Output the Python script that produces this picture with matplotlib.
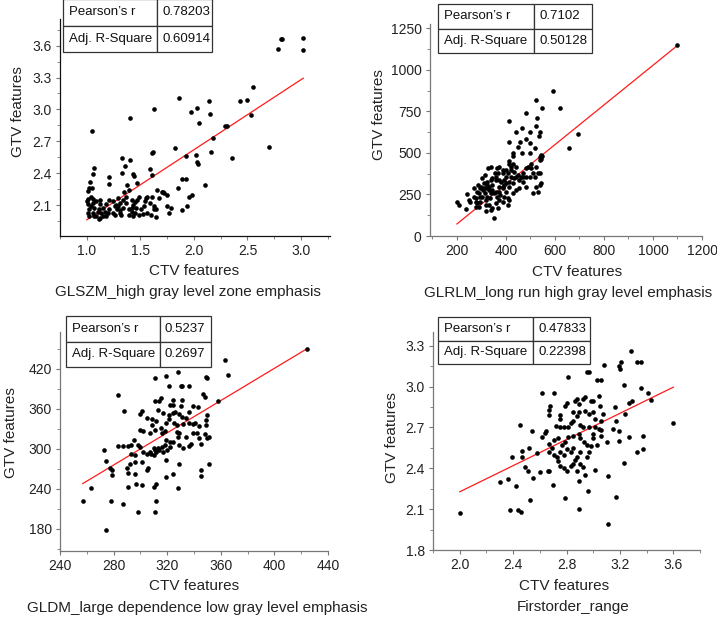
import numpy as np
import matplotlib
matplotlib.use("Agg")
import matplotlib.pyplot as plt
from matplotlib.ticker import MultipleLocator

plt.rcParams['font.family'] = ['Liberation Sans', 'DejaVu Sans']

# ---------------- data ----------------
p1_title = "GLSZM_high gray level zone emphasis"
p1_stats = ["0.78203", "0.60914"]
p1_ctv = [2.81, 2.82, 2.78, 3.02, 3.02, 2.55, 2.50, 2.43, 2.14, 1.86, 1.63, 1.40, 1.05, 1.97, 2.03,
          2.15, 2.05, 2.53, 2.29, 2.31, 2.18, 2.70, 2.36, 2.16, 1.82, 1.62, 1.61, 1.93, 2.02, 2.03,
          2.04, 1.93, 1.89, 2.10, 1.61, 1.59, 1.33, 1.40, 1.36, 1.43, 1.44, 1.33, 1.38, 1.39, 1.47,
          1.21, 1.21, 1.07, 1.06, 1.03, 1.02, 1.01, 1.05, 1.85, 1.98, 1.95, 1.94, 1.89, 1.75, 1.70,
          1.72, 1.66, 1.61, 1.75, 1.79, 1.77, 1.63, 1.63, 1.65, 1.47, 1.49, 1.55, 1.56, 1.53, 1.51,
          1.56, 1.60, 1.42, 1.43, 1.37, 1.34, 1.35, 1.31, 1.29, 1.26, 1.24, 1.18, 1.21, 1.24, 1.26,
          1.27, 1.15, 1.12, 1.09, 1.06, 1.04, 1.07, 1.10, 1.11, 1.13, 1.06, 1.07, 1.01, 1.02, 1.11,
          1.15, 1.18, 1.00, 1.01, 1.04, 1.39, 1.42, 1.45, 1.46, 1.49, 1.52, 1.29, 1.31, 1.32, 1.34,
          1.01, 1.02, 1.06, 1.12, 1.17, 1.20, 1.12, 1.45, 1.59, 1.67, 1.71, 1.54, 1.37, 1.42, 1.28,
          1.21, 1.65, 1.31, 1.39, 1.43, 1.09]
p1_gtv = [3.66, 3.66, 3.57, 3.67, 3.56, 3.21, 3.09, 3.08, 3.08, 3.11, 3.00, 2.92, 2.80, 2.98, 3.01,
          2.96, 2.87, 2.95, 2.84, 2.84, 2.73, 2.65, 2.54, 2.60, 2.64, 2.60, 2.59, 2.56, 2.57, 2.51,
          2.49, 2.35, 2.35, 2.29, 2.38, 2.44, 2.54, 2.52, 2.47, 2.39, 2.37, 2.40, 2.29, 2.24, 2.31,
          2.36, 2.30, 2.45, 2.39, 2.32, 2.26, 2.23, 2.26, 2.26, 2.20, 2.18, 2.09, 2.05, 2.20, 2.22,
          2.21, 2.24, 2.18, 2.09, 2.07, 2.03, 2.09, 2.06, 1.99, 2.15, 2.18, 2.17, 2.18, 2.09, 2.06,
          2.03, 2.01, 2.15, 2.10, 2.18, 2.15, 2.22, 2.12, 2.09, 2.09, 2.14, 2.11, 2.06, 2.03, 2.01,
          2.10, 2.07, 2.15, 2.14, 2.16, 2.09, 2.07, 2.04, 2.06, 2.03, 2.03, 2.00, 2.03, 2.00, 1.97,
          2.00, 2.00, 2.14, 2.16, 2.18, 2.06, 2.04, 2.03, 2.07, 2.01, 2.02, 2.17, 2.05, 2.01, 2.07,
          2.11, 2.06, 2.12, 2.11, 2.04, 2.03, 1.98, 2.13, 2.12, 2.17, 2.22, 2.14, 2.12, 2.07, 2.06,
          2.15, 2.06, 2.03, 2.01, 2.00, 2.00]
p1_fit = (0.659, 1.303)
p1_xticks = [1.0, 1.5, 2.0, 2.5, 3.0]
p1_yticks = [2.1, 2.4, 2.7, 3.0, 3.3, 3.6]

p2_title = "GLRLM_long run high gray level emphasis"
p2_stats = ["0.7102", "0.50128"]
p2_ctv = [1100, 593, 524, 621, 549, 480, 527, 414, 694, 538, 524, 465, 497, 534, 483, 439, 414, 459,
          499, 517, 659, 465, 498, 448, 430, 428, 545, 538, 411, 428, 441, 421, 400, 386, 372, 363,
          414, 490, 503, 524, 538, 510, 483, 462, 441, 455, 524, 538, 531, 510, 545, 428, 414, 400,
          393, 379, 359, 345, 338, 324, 310, 300, 317, 331, 345, 338, 359, 372, 386, 400, 407, 414,
          407, 386, 372, 359, 345, 331, 317, 303, 296, 283, 276, 276, 269, 290, 307, 324, 334, 362,
          376, 393, 428, 441, 455, 303, 314, 328, 338, 366, 386, 407, 421, 432, 469, 483, 352, 317,
          290, 248, 237, 207, 241, 276, 200, 255, 317, 338, 366, 386, 400, 359, 345, 324, 314, 296,
          283, 355, 372, 414, 434, 448, 469, 497, 517, 531, 545, 549, 538, 503, 483, 469, 421, 393,
          372, 352, 331, 310, 296, 286, 269]
p2_gtv = [1146, 872, 816, 772, 772, 742, 712, 692, 616, 626, 660, 652, 626, 600, 584, 628, 566, 566,
          560, 532, 532, 500, 500, 536, 500, 484, 486, 476, 452, 436, 416, 416, 396, 376, 416, 406,
          436, 416, 406, 416, 376, 376, 356, 356, 356, 336, 296, 306, 266, 256, 316, 316, 296, 320,
          336, 326, 356, 346, 336, 326, 316, 296, 286, 296, 276, 256, 266, 296, 296, 266, 226, 216,
          186, 206, 216, 196, 166, 186, 216, 236, 206, 196, 176, 226, 236, 256, 276, 236, 226, 236,
          246, 236, 256, 276, 286, 346, 366, 406, 416, 376, 396, 376, 356, 346, 326, 296, 106, 150,
          176, 216, 160, 186, 250, 206, 206, 206, 186, 156, 166, 286, 356, 336, 306, 306, 256, 236,
          266, 376, 336, 326, 386, 366, 356, 356, 356, 376, 466, 480, 456, 436, 406, 376, 396, 306,
          266, 256, 276, 286, 286, 306, 286]
p2_fit = (1.193, -166.2)
p2_xticks = [200, 400, 600, 800, 1000, 1200]
p2_yticks = [0, 250, 500, 750, 1000, 1250]

p3_title = "GLDM_large dependence low gray level emphasis"
p3_stats = ["0.5237", "0.2697"]
p3_ctv = [424, 363, 365, 350, 349, 328, 319, 311, 283, 321, 330, 331, 336, 358, 347, 348, 315, 311,
          314, 322, 324, 330, 339, 343, 350, 349, 349, 288, 301, 300, 305, 309, 313, 317, 321, 324,
          326, 329, 331, 334, 336, 321, 319, 325, 327, 332, 336, 339, 312, 309, 315, 316, 307, 302,
          300, 311, 318, 327, 329, 339, 342, 334, 338, 336, 344, 345, 351, 350, 348, 319, 322, 318,
          316, 313, 311, 310, 307, 308, 310, 312, 314, 317, 320, 322, 324, 328, 332, 329, 305, 302,
          300, 298, 295, 293, 291, 287, 283, 293, 296, 296, 301, 305, 306, 290, 292, 279, 274, 279,
          277, 263, 273, 291, 296, 291, 301, 310, 312, 297, 278, 287, 298, 311, 312, 257, 274, 319,
          319, 324, 329, 328, 345, 345, 351, 344, 341, 331, 324]
p3_gtv = [449, 433, 411, 406, 407, 415, 409, 406, 380, 394, 394, 394, 394, 372, 382, 378, 376, 371,
          371, 365, 373, 364, 364, 362, 351, 343, 336, 357, 357, 352, 346, 344, 358, 353, 351, 353,
          355, 352, 348, 346, 355, 344, 338, 338, 336, 337, 338, 337, 341, 336, 331, 323, 323, 326,
          328, 328, 326, 325, 324, 323, 323, 318, 307, 304, 316, 307, 318, 316, 322, 313, 311, 306,
          303, 302, 299, 301, 296, 293, 291, 296, 299, 296, 298, 303, 311, 318, 301, 306, 293, 295,
          303, 306, 313, 306, 305, 305, 305, 293, 291, 281, 281, 268, 272, 272, 278, 269, 282, 261,
          272, 241, 299, 264, 262, 243, 246, 243, 248, 247, 222, 218, 205, 206, 222, 222, 178, 283,
          258, 262, 277, 241, 268, 259, 277, 334, 338, 373, 366]
p3_fit = (1.207, -62.2)
p3_xticks = [240, 280, 320, 360, 400, 440]
p3_yticks = [180, 240, 300, 360, 420]

p4_title = "Firstorder_range"
p4_stats = ["0.47833", "0.22398"]
p4_ctv = [2.00, 3.60, 3.11, 3.28, 3.33, 3.36, 3.19, 3.20, 3.21, 3.08, 2.95, 2.97, 2.81, 3.03, 3.06,
          3.23, 3.36, 3.41, 3.43, 3.29, 3.27, 3.24, 3.16, 3.07, 3.06, 3.05, 3.04, 3.00, 2.98, 2.94,
          2.92, 2.88, 2.86, 2.89, 2.80, 2.79, 2.71, 2.62, 2.68, 2.67, 2.67, 2.75, 2.75, 2.85, 2.89,
          2.94, 2.97, 3.00, 3.01, 2.88, 2.85, 2.83, 2.81, 2.78, 2.75, 2.72, 2.90, 2.92, 2.97, 3.01,
          3.04, 3.06, 3.15, 3.17, 3.19, 3.19, 3.27, 3.37, 3.37, 3.33, 3.23, 3.11, 3.17, 2.96, 2.89,
          2.79, 2.66, 2.67, 2.55, 2.70, 2.53, 2.44, 2.46, 2.38, 2.42, 2.36, 2.30, 2.39, 2.49, 2.51,
          2.47, 2.47, 2.52, 2.54, 2.45, 2.58, 2.62, 2.64, 2.65, 2.67, 2.69, 2.67, 2.71, 2.73, 2.74,
          2.75, 2.78, 2.80, 2.85, 2.83, 2.86, 2.88, 2.90, 2.92, 2.94, 2.89, 2.88, 2.95, 2.97, 2.98,
          2.95, 2.93, 2.90, 2.89, 2.85, 2.81, 2.79, 2.77, 2.80, 2.83, 3.00, 3.00, 3.03, 3.01, 2.60,
          2.75, 2.74, 3.10, 3.06, 2.71, 2.78, 2.85, 2.90]
p4_gtv = [2.07, 2.73, 1.99, 3.26, 3.18, 3.18, 3.15, 3.13, 3.18, 3.16, 3.11, 3.11, 3.07, 3.05, 3.05,
          3.01, 2.99, 2.95, 2.90, 2.89, 2.88, 2.80, 2.85, 2.80, 2.75, 2.86, 2.93, 2.89, 2.89, 2.92,
          2.91, 2.91, 2.89, 2.87, 2.88, 2.86, 2.95, 2.95, 2.86, 2.83, 2.79, 2.79, 2.76, 2.81, 2.81,
          2.82, 2.80, 2.81, 2.76, 2.78, 2.75, 2.73, 2.70, 2.70, 2.70, 2.71, 2.72, 2.70, 2.70, 2.70,
          2.69, 2.68, 2.69, 2.75, 2.67, 2.60, 2.63, 2.64, 2.54, 2.52, 2.44, 2.34, 2.19, 2.23, 2.10,
          2.18, 2.38, 2.38, 2.33, 2.28, 2.17, 2.09, 2.08, 2.09, 2.27, 2.32, 2.30, 2.48, 2.41, 2.38,
          2.53, 2.48, 2.55, 2.67, 2.72, 2.51, 2.63, 2.66, 2.67, 2.58, 2.55, 2.52, 2.50, 2.48, 2.45,
          2.42, 2.40, 2.38, 2.43, 2.42, 2.46, 2.48, 2.43, 2.41, 2.35, 2.31, 2.38, 2.48, 2.52, 2.56,
          2.57, 2.59, 2.62, 2.65, 2.64, 2.63, 2.59, 2.57, 2.54, 2.52, 2.65, 2.62, 2.57, 2.39, 2.37,
          2.52, 2.62, 2.59, 2.64, 2.61, 2.50, 2.55, 2.52]
p4_fit = (0.48, 1.267)
p4_xticks = [2.0, 2.4, 2.8, 3.2, 3.6]
p4_yticks = [1.8, 2.1, 2.4, 2.7, 3.0, 3.3]

stat_names = ["Pearson\u2019s r", "Adj. R-Square"]

# ---------------- layout ----------------
W, H = 717, 617
fig = plt.figure(figsize=(W / 100, H / 100), dpi=100)

def px_axes(x0, y0, x1, y1):
    return [x0 / W, (H - y1) / H, (x1 - x0) / W, (y1 - y0) / H]

panels = [
    dict(ctv=p1_ctv, gtv=p1_gtv, fit=p1_fit, stats=p1_stats, title=p1_title,
         xt=p1_xticks, yt=p1_yticks, xmin=0.25, ymin=0.15, xlim=(0.75, 3.27), ylim=(1.81, 3.85),
         rect=px_axes(60, 19, 330, 236), spine='#111111',
         tbl=[0.011, 0.85, 0.552, 0.24], cw=[0.631, 0.369],
         ylab=(-0.156, 0.573), xlab=(0.496, -0.161), tit=(0.474, -0.257)),
    dict(ctv=p2_ctv, gtv=p2_gtv, fit=p2_fit, stats=p2_stats, title=p2_title,
         xt=p2_xticks, yt=p2_yticks, xmin=100, ymin=125, xlim=(90, 1200), ylim=(0, 1275),
         rect=px_axes(430, 24, 702, 236), spine='#777777',
         tbl=[0.030, 0.863, 0.565, 0.231], cw=[0.621, 0.379],
         ylab=(-0.188, 0.571), xlab=(0.540, -0.170), tit=(0.508, -0.269)),
    dict(ctv=p3_ctv, gtv=p3_gtv, fit=p3_fit, stats=p3_stats, title=p3_title,
         xt=p3_xticks, yt=p3_yticks, xmin=20, ymin=30, xlim=(240, 440), ylim=(147, 475),
         rect=px_axes(60, 332, 328, 551), spine='#777777',
         tbl=[0.022, 0.840, 0.543, 0.233], cw=[0.644, 0.356],
         ylab=(-0.182, 0.539), xlab=(0.502, -0.160), tit=(0.513, -0.260)),
    dict(ctv=p4_ctv, gtv=p4_gtv, fit=p4_fit, stats=p4_stats, title=p4_title,
         xt=p4_xticks, yt=p4_yticks, xmin=0.2, ymin=0.15, xlim=(1.8, 3.8), ylim=(1.8, 3.4),
         rect=px_axes(433, 332, 700, 550), spine='#777777',
         tbl=[0.019, 0.853, 0.569, 0.216], cw=[0.625, 0.375],
         ylab=(-0.154, 0.518), xlab=(0.49, -0.165), tit=(0.524, -0.261)),
]

for p in panels:
    ax = fig.add_axes(p['rect'])
    x = np.array(p['ctv'], dtype=float)
    y = np.array(p['gtv'], dtype=float)
    ax.scatter(x, y, s=11, c='black', linewidths=0, zorder=3)
    m, b = p['fit']
    xs = np.array([x.min(), x.max()])
    ax.plot(xs, m * xs + b, color='#ff1a1a', lw=0.9, zorder=2)

    ax.set_xlim(*p['xlim'])
    ax.set_ylim(*p['ylim'])
    ax.set_xticks(p['xt'])
    ax.set_yticks(p['yt'])
    ax.xaxis.set_minor_locator(MultipleLocator(p['xmin']))
    ax.yaxis.set_minor_locator(MultipleLocator(p['ymin']))
    for s in ['top', 'right']:
        ax.spines[s].set_visible(False)
    for s in ['left', 'bottom']:
        ax.spines[s].set_color(p['spine'])
        ax.spines[s].set_linewidth(0.9)
    ax.tick_params(which='major', direction='out', length=3, width=0.8,
                   color='#777777', labelsize=10, labelcolor='#222222', pad=3)
    ax.tick_params(which='minor', direction='out', length=2, width=0.7, color='#888888')

    ax.set_xlabel("CTV features", fontsize=11, color='#222222')
    ax.set_ylabel("GTV features", fontsize=11, color='#222222')
    ax.xaxis.set_label_coords(*p['xlab'])
    ax.yaxis.set_label_coords(*p['ylab'])
    ax.xaxis.label.set_va('center')
    ax.yaxis.label.set_va('center')
    ax.text(p['tit'][0], p['tit'][1], p['title'], transform=ax.transAxes,
            ha='center', va='center', fontsize=11, color='#222222')

    cells = [[stat_names[0], p['stats'][0]], [stat_names[1], p['stats'][1]]]
    tb = ax.table(cellText=cells, cellLoc='left', bbox=p['tbl'], colWidths=p['cw'])
    tb.auto_set_font_size(False)
    tb.set_fontsize(9.5)
    for (r, c), cell in tb.get_celld().items():
        cell.set_edgecolor('#333333')
        cell.set_linewidth(0.9)
        cell.set_facecolor('white')
        cell.PAD = 0.06 if c == 0 else 0.1
        cell.get_text().set_color('#111111')
    tb.set_zorder(5)

fig.savefig("out.png", dpi=100)
